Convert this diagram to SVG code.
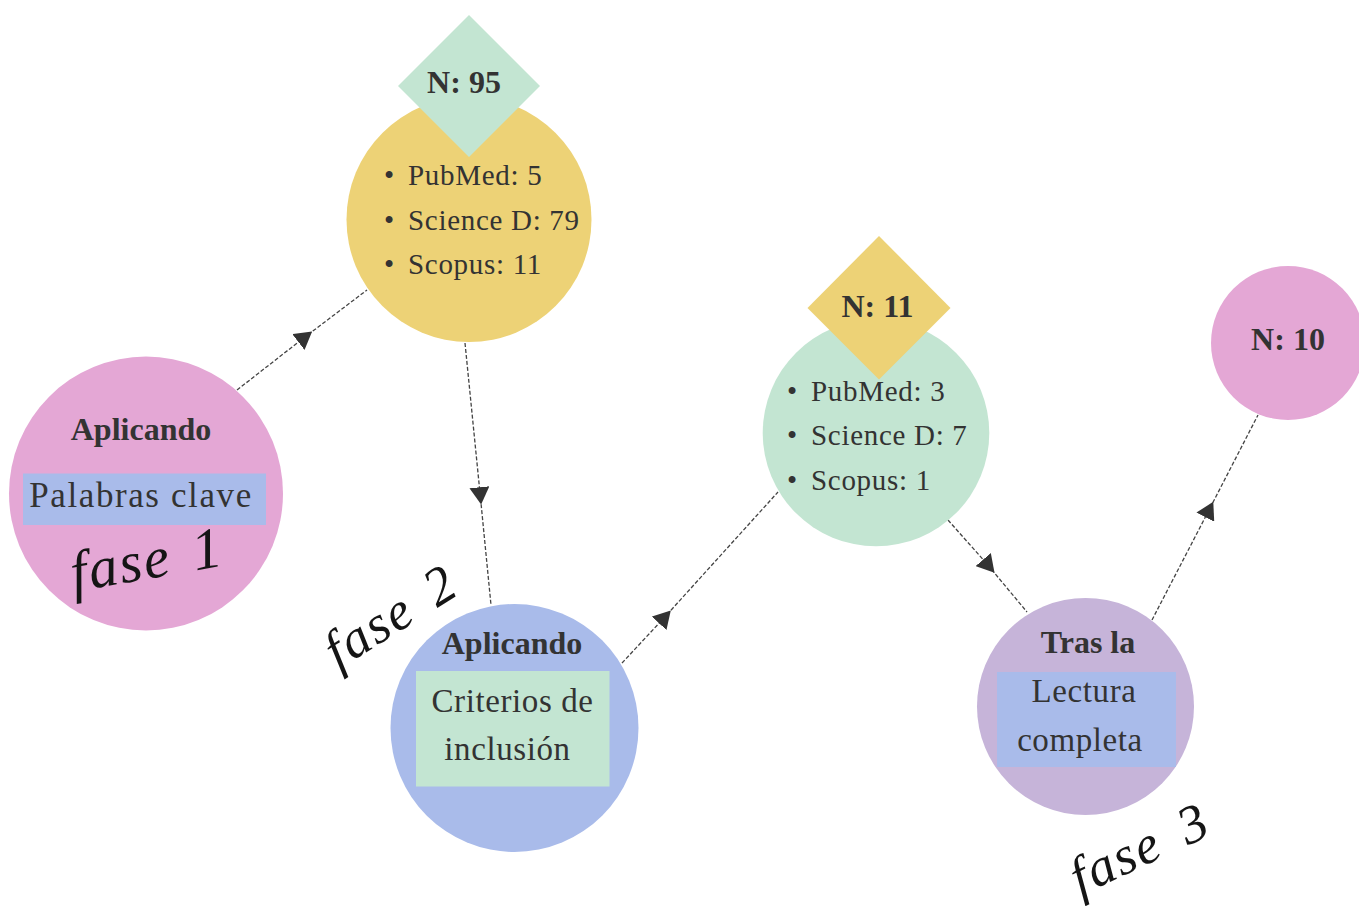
<svg xmlns="http://www.w3.org/2000/svg" width="1359" height="906" viewBox="0 0 1359 906">
<style>
.bg{fill:#ffffff}
.pink{fill:#E4A7D5}
.yellow{fill:#EDD276}
.green{fill:#C3E5D2}
.blue{fill:#A9BBEA}
.purple{fill:#C6B4D9}
.t{font-family:"Liberation Serif","Times New Roman",serif;fill:#333333}
.b{font-weight:bold;font-size:32px;text-anchor:middle}
.body{font-size:33px;letter-spacing:0.6px;text-anchor:middle}
.li{font-size:29px;letter-spacing:0.7px}
.hand{font-family:"Liberation Serif","Times New Roman",serif;font-style:italic;fill:#151515;letter-spacing:2px}
.conn{fill:none;stroke:#444444;stroke-width:1.3;stroke-dasharray:4 2}
</style>
<defs>
<marker id="arr" viewBox="0 0 18 20" refX="5.8" refY="10" markerWidth="18" markerHeight="20" markerUnits="userSpaceOnUse" orient="auto">
<path d="M0,0 L17.3,10 L0,20 z" fill="#333333"/>
</marker>
</defs>
<rect class="bg" x="0" y="0" width="1359" height="906"/>

<g id="connectors">
<path class="conn" d="M237,390 L303,338.5 L367,290" marker-mid="url(#arr)"/>
<path class="conn" d="M465,343 L480,493 L491,605" marker-mid="url(#arr)"/>
<path class="conn" d="M622,663 L663,619 L778,492" marker-mid="url(#arr)"/>
<path class="conn" d="M948,520 L987,564 L1027,612" marker-mid="url(#arr)"/>
<path class="conn" d="M1152,620 L1208,512 L1258,415" marker-mid="url(#arr)"/>
</g>

<g id="fase1-node">
<circle class="pink" cx="146" cy="493.5" r="137"/>
<text class="t b" x="141" y="440">Aplicando</text>
<rect class="blue" x="23" y="473.5" width="243" height="51.5"/>
<text class="t" x="141" y="507" font-size="35" letter-spacing="1.6" text-anchor="middle">Palabras clave</text>
<text class="hand" transform="translate(74,592) rotate(-10)" font-size="58">fase<tspan dx="22">1</tspan></text>
</g>

<g id="n95-node">
<circle class="yellow" cx="469" cy="219.5" r="122.5"/>
<polygon class="green" points="469,15 540,86 469,157 398,86"/>
<text class="t b" x="464" y="93">N: 95</text>
<text class="t li" x="384" y="185">•</text>
<text class="t li" x="408" y="185">PubMed: 5</text>
<text class="t li" x="384" y="230">•</text>
<text class="t li" x="408" y="230">Science D: 79</text>
<text class="t li" x="384" y="274">•</text>
<text class="t li" x="408" y="274">Scopus: 11</text>
</g>

<g id="fase2-node">
<circle class="blue" cx="514.5" cy="728" r="124"/>
<text class="t b" x="512" y="654" font-size="30">Aplicando</text>
<rect class="green" x="416" y="671" width="193.5" height="115.5"/>
<text class="t body" x="512.5" y="712">Criterios de</text>
<text class="t body" x="507.5" y="760">inclusión</text>
<text class="hand" transform="translate(338,670) rotate(-32)" font-size="54">fase<tspan dx="22">2</tspan></text>
</g>

<g id="n11-node">
<circle class="green" cx="876" cy="433" r="113.3"/>
<polygon class="yellow" points="879,236 950.5,308 879,379.5 807.5,308"/>
<text class="t b" x="877.5" y="317">N: 11</text>
<text class="t li" x="787" y="401">•</text>
<text class="t li" x="811" y="401">PubMed: 3</text>
<text class="t li" x="787" y="445">•</text>
<text class="t li" x="811" y="445">Science D: 7</text>
<text class="t li" x="787" y="489.5">•</text>
<text class="t li" x="811" y="489.5">Scopus: 1</text>
</g>

<g id="fase3-node">
<circle class="purple" cx="1085.5" cy="706.5" r="108.5"/>
<text class="t b" x="1088" y="653">Tras la</text>
<rect class="blue" x="997" y="672" width="179" height="95"/>
<text class="t body" x="1084" y="702">Lectura</text>
<text class="t body" x="1080" y="750.5">completa</text>
<text class="hand" transform="translate(1080,896) rotate(-25)" font-size="54">fase<tspan dx="24">3</tspan></text>
</g>

<g id="n10-node">
<circle class="pink" cx="1288" cy="343" r="77"/>
<text class="t b" x="1288" y="350">N: 10</text>
</g>
</svg>
